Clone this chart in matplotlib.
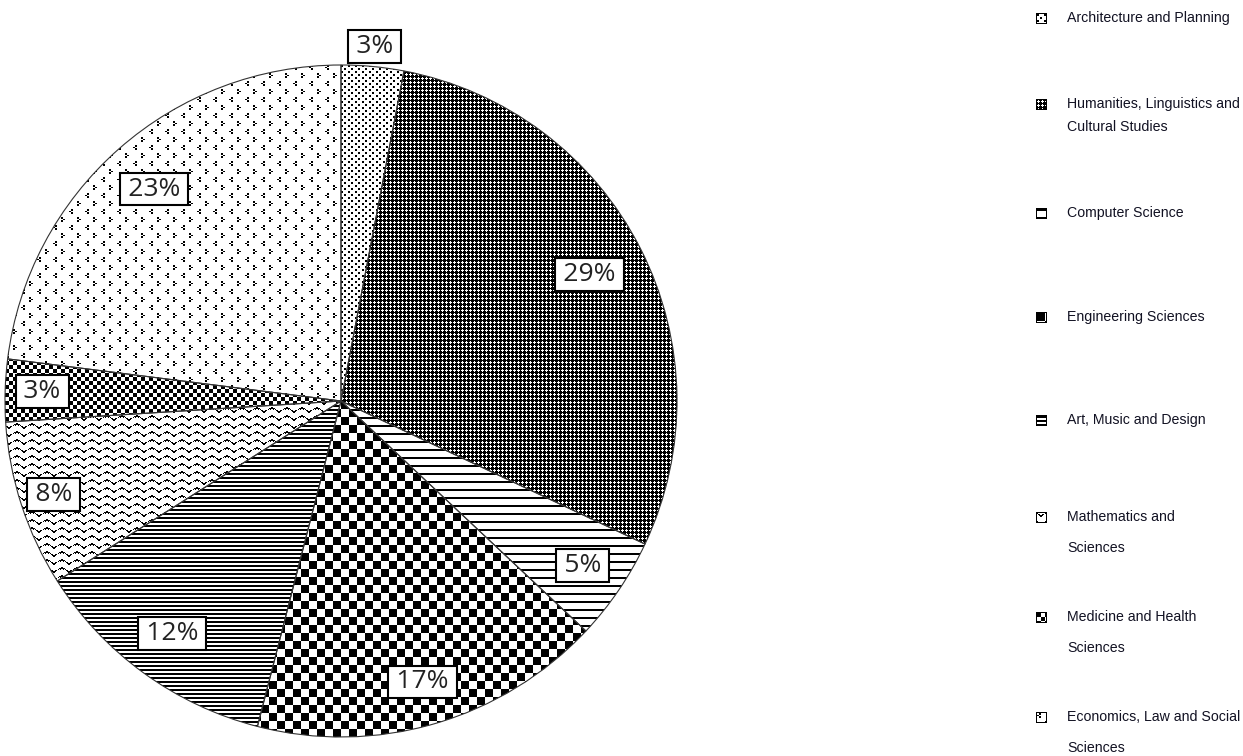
import numpy as np
import matplotlib
matplotlib.use("Agg")
import matplotlib.pyplot as plt

# data
categories = ["Architecture and Planning",
              "Humanities, Linguistics and\nCultural Studies",
              "Computer Science",
              "Engineering Sciences",
              "Art, Music and Design",
              "Mathematics and\nSciences",
              "Medicine and Health\nSciences",
              "Economics, Law and Social\nSciences"]
shares = [3, 29, 5, 17, 12, 8, 3, 23]
pct_labels = [f"{v}%" for v in shares]

# style per slice
patterns = ["dots", "dense", "hlines", "checker", "fine_lines", "waves", "small_checker", "chevrons"]
label_r = [1.06, 0.83, 0.87, 0.87, 0.855, 0.90, 0.89, 0.84]
legend_y = [[18], [104, 127], [213], [317], [420], [517, 548], [617, 648], [717, 748]]

W, H = 1243, 756


def pattern(name, h, w):
    """black mask for a fill pattern"""
    yy, xx = np.mgrid[0:h, 0:w]
    if name == "dots":
        a = (yy % 6 < 2) & (xx % 7 < 2)
        b = ((yy - 3) % 6 < 2) & ((xx - 3) % 7 < 2)
        return a | b
    if name == "dense":
        ty, tx = yy % 4, xx % 4
        white = ((ty == 1) & (tx <= 2)) | ((tx == 1) & (ty <= 2))
        return ~white
    if name == "hlines":
        return yy % 8 < 2
    if name == "checker":
        return ((yy // 8) + (xx // 8)) % 2 == 0
    if name == "fine_lines":
        return yy % 4 < 2
    if name == "waves":
        s = np.sin(2 * np.pi * xx / 15)
        wave = np.round(1.6 * s).astype(int)
        d = (yy - wave) % 8
        return ((d == 0) | ((d == 1) & (np.abs(s) > 0.7))) & (xx % 15 != 7)
    if name == "small_checker":
        return ((yy // 4) + (xx // 4)) % 2 == 0
    if name == "chevrons":
        m = np.zeros((h, w), bool)
        ty, tx = yy % 16, xx % 16
        # "<" shape
        m |= ((ty <= 1) | ((ty >= 3) & (ty <= 4))) & ((tx == 2) | (tx == 3))
        m |= (ty == 2) & ((tx == 0) | (tx == 1))
        # ">" shape
        m |= (((ty >= 8) & (ty <= 9)) | ((ty >= 11) & (ty <= 12))) & ((tx == 8) | (tx == 9))
        m |= (ty == 10) & ((tx == 10) | (tx == 11))
        return m
    return np.zeros((h, w), bool)


fig = plt.figure(figsize=(W / 100, H / 100), dpi=100)
ax = fig.add_axes([5 / W, 19 / H, 672 / W, 672 / H])

wedges, _ = ax.pie(shares, startangle=90, counterclock=False, radius=1,
                   wedgeprops=dict(facecolor="white", edgecolor="none"))

N = 672
for w, pat in zip(wedges, patterns):
    img = 1.0 - pattern(pat, N, N)
    im = ax.imshow(img, cmap="gray", vmin=0, vmax=1, extent=(-1, 1, -1, 1),
                   interpolation="nearest", zorder=2)
    im.set_clip_path(w)

ax.pie(shares, startangle=90, counterclock=False, radius=1,
       wedgeprops=dict(fill=False, edgecolor="#333333", linewidth=0.8, zorder=3))

for w, lab, r in zip(wedges, pct_labels, label_r):
    ang = np.deg2rad((w.theta1 + w.theta2) / 2)
    ax.text(r * np.cos(ang), r * np.sin(ang), "\u2009" + lab + "\u2009", ha="center", va="center",
            fontsize=19, family=["Open Sans", "DejaVu Sans"], color="#222222", zorder=5,
            clip_on=False,
            bbox=dict(boxstyle="square,pad=0.14", fc="white", ec="black", lw=1.5))

ax.set_xlim(-1, 1)
ax.set_ylim(-1, 1)
ax.set_aspect("equal")
ax.axis("off")

# legend
for cat, pat, ys in zip(categories, patterns, legend_y):
    mark = np.ones((11, 11))
    mark[1:-1, 1:-1] = 1.0 - pattern(pat, 9, 9)
    mark[0, :] = mark[-1, :] = mark[:, 0] = mark[:, -1] = 0
    fig.figimage(mark, xo=1036, yo=H - ys[0] - 6, origin="upper",
                 cmap="gray", vmin=0, vmax=1)
    for line, y in zip(cat.split("\n"), ys):
        fig.text(1067 / W, 1 - y / H, line, fontsize=10.2, family="Liberation Sans",
                 ha="left", va="center", color="#111122")

fig.savefig("out.png", dpi=100)
